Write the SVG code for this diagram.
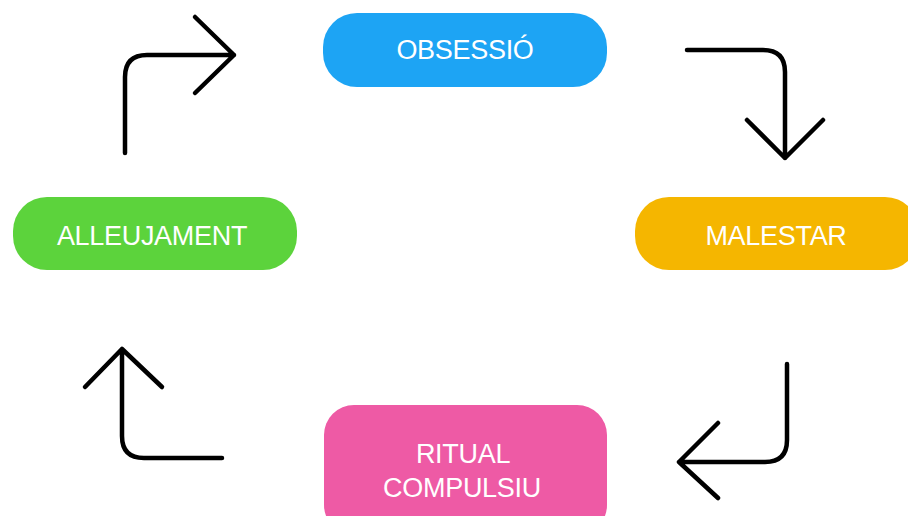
<svg xmlns="http://www.w3.org/2000/svg" width="908" height="516" viewBox="0 0 908 516">
<style>
.lbl{font-family:"Liberation Sans",Arial,sans-serif;font-size:27px;fill:#ffffff;text-anchor:middle;letter-spacing:-0.3px}
.arr{fill:none;stroke:#000000;stroke-width:4.5;stroke-linecap:round;stroke-linejoin:round}
</style>
<rect width="908" height="516" fill="#ffffff"/>
<g id="obsessio">
<rect x="323" y="13" width="284" height="74" rx="34" fill="#1DA4F4"/>
<text class="lbl" x="465" y="59">OBSESSIÓ</text>
</g>
<g id="malestar">
<rect x="635" y="197" width="284" height="73" rx="34" fill="#F5B600"/>
<text class="lbl" x="776" y="245">MALESTAR</text>
</g>
<g id="ritual">
<rect x="324" y="405" width="283" height="130" rx="30" fill="#EE5AA5"/>
<text class="lbl" x="463" y="463">RITUAL</text>
<text class="lbl" x="462" y="497">COMPULSIU</text>
</g>
<g id="alleujament">
<rect x="13" y="197" width="284" height="73" rx="34" fill="#5CD33C"/>
<text class="lbl" x="152" y="245">ALLEUJAMENT</text>
</g>
<g id="connectors">
<path class="arr" d="M125 153 V77 Q125 55 147 55 H234 M195 17 L234 55 L195 93"/>
<path class="arr" d="M687 50 H763 Q785 50 785 72 V158 M747 120 L785 158 L823 120"/>
<path class="arr" d="M787 364 V440 Q787 462 765 462 H679 M718 423 L679 462 L718 498"/>
<path class="arr" d="M222 458 H144 Q122 458 122 436 V349 M85 387 L122 349 L162 387"/>
</g>
</svg>
